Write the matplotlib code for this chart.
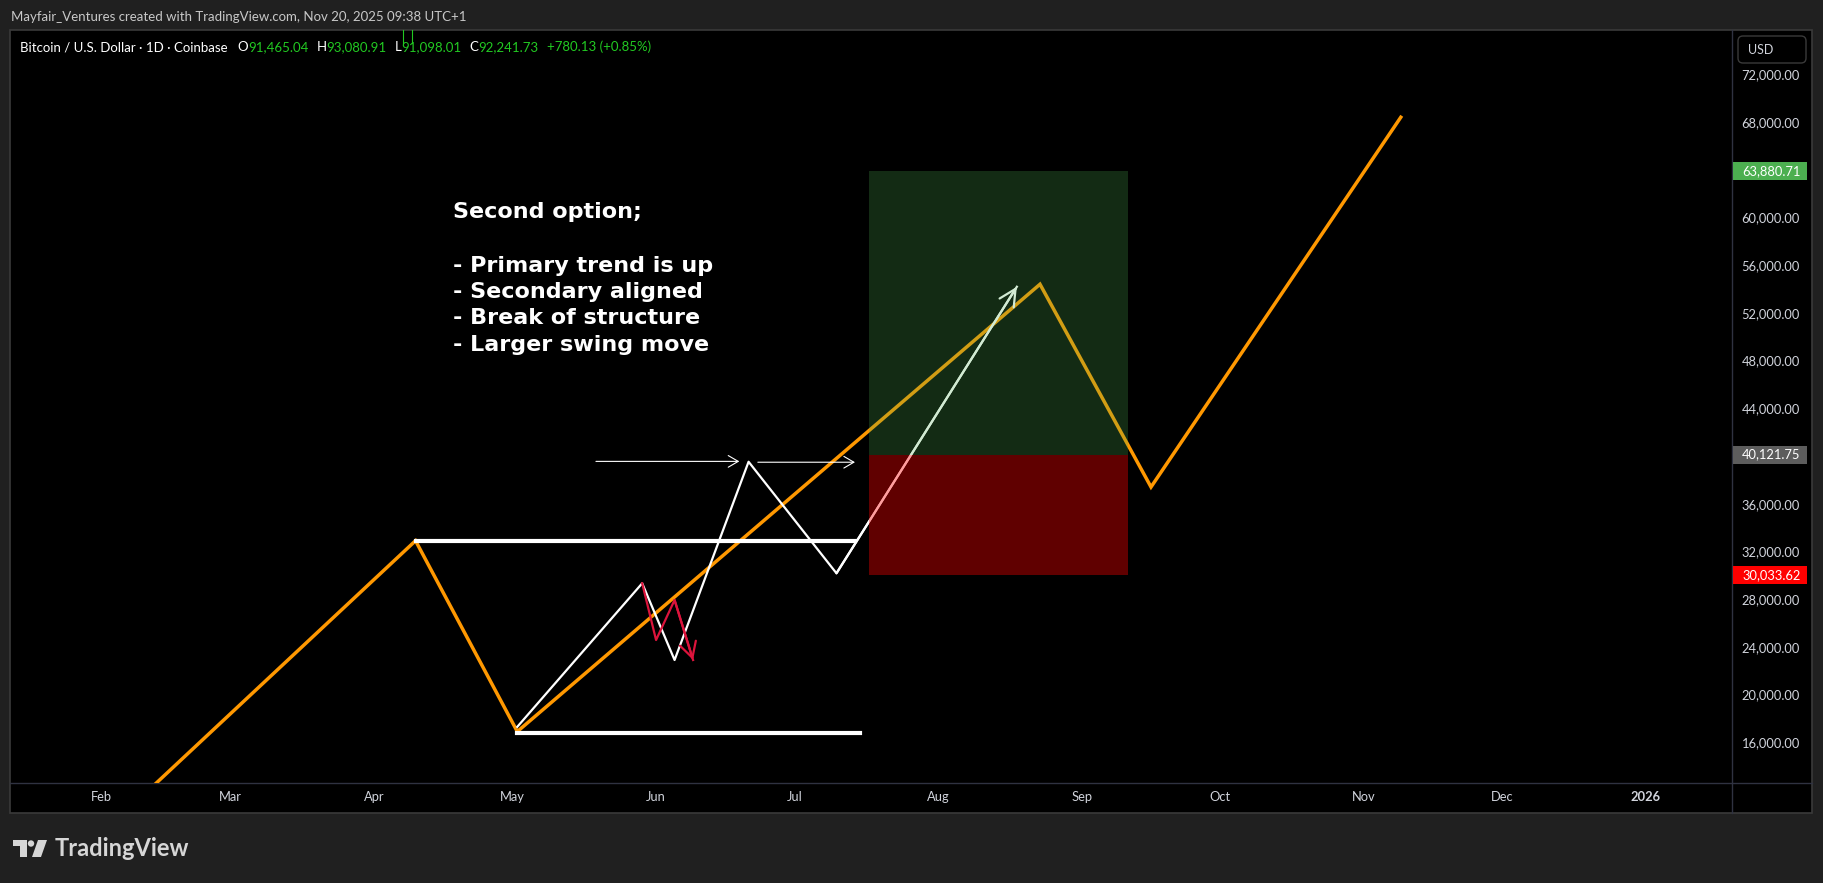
import numpy as np
import pandas as pd
import matplotlib
matplotlib.use("Agg")
import matplotlib.pyplot as plt
import matplotlib.dates as mdates
from matplotlib.patches import Rectangle, Polygon, Circle, FancyBboxPatch
from matplotlib.transforms import blended_transform_factory

# ---- data ----
orange_dates = ["2025-02-05", "2025-04-10", "2025-05-02", "2025-08-23", "2025-09-16", "2025-11-09"]
orange_prices = [9700, 32900, 16900, 54400, 37400, 68400]

white_dates = ["2025-05-02", "2025-05-29", "2025-06-05", "2025-06-21", "2025-07-10", "2025-08-18"]
white_prices = [17300, 29330, 22900, 39520, 30170, 54190]

red_dates = ["2025-05-29", "2025-06-01", "2025-06-05", "2025-06-09"]
red_prices = [29330, 24575, 27930, 22900]

# horizontal structure levels (start, end, price)
level_high = ("2025-04-10", "2025-07-14", 32900)
level_low = ("2025-05-02", "2025-07-15", 16780)

# break-of-structure arrows
bos_arrows = [("2025-05-19", "2025-06-19", 39550), ("2025-06-23", "2025-07-14", 39480)]

# long position tool
box_start, box_end = "2025-07-17", "2025-09-11"
target_price = 63880.71
entry_price = 40121.75
stop_price = 30033.62

price_ticks = list(range(16000, 76000, 4000))
month_ticks = ["2025-02-01", "2025-03-01", "2025-04-01", "2025-05-01", "2025-06-01", "2025-07-01",
               "2025-08-01", "2025-09-01", "2025-10-01", "2025-11-01", "2025-12-01", "2026-01-01"]
month_labels = ["Feb", "Mar", "Apr", "May", "Jun", "Jul", "Aug", "Sep", "Oct", "Nov", "Dec", "2026"]

note_lines = ["Second option;", "- Primary trend is up", "- Secondary aligned",
              "- Break of structure", "- Larger swing move"]
note_anchor = ("2025-04-18", 60450)


def d(s):
    return mdates.date2num(pd.Timestamp(s))


W, H = 1824, 883
fig = plt.figure(figsize=(W / 100, H / 100), dpi=100, facecolor="#202020")

# pixel overlay for frame and logo
bg = fig.add_axes([0, 0, 1, 1], zorder=0)
bg.set_xlim(0, W)
bg.set_ylim(H, 0)
bg.axis("off")
bg.add_patch(Rectangle((10, 30), 1802, 783, facecolor="black", edgecolor="#3a3a3a", lw=1.2))
bg.plot([10, 1812], [783, 783], color="#2f3241", lw=1)
bg.plot([1732, 1732], [30, 813], color="#2f3241", lw=1)

bg.text(11, 17, "Mayfair_Ventures created with TradingView.com, Nov 20, 2025 09:38 UTC+1",
        color="#c8c8c8", fontsize=9.5, family="Lato", va="center")

# USD button
bg.add_patch(FancyBboxPatch((1738, 36), 68, 27, boxstyle="round,pad=0,rounding_size=5",
                            facecolor="black", edgecolor="#3a3a3a", lw=1))
bg.text(1748, 50, "USD", color="#d1d4dc", fontsize=9, family="Lato", va="center")

# TradingView logo
logo_c = "#d6d6d6"
bg.add_patch(Polygon([(13, 840), (27, 840), (27, 857), (20, 857), (20, 846), (13, 846)],
                     closed=True, facecolor=logo_c, edgecolor="none"))
bg.add_patch(Circle((31, 843.5), 3.2, facecolor=logo_c, edgecolor="none"))
bg.add_patch(Polygon([(38, 840), (47, 840), (41, 857), (32, 857)], closed=True,
                     facecolor=logo_c, edgecolor="none"))
bg.text(55, 848.5, "TradingView", color=logo_c, fontsize=17, family="Lato",
        weight="bold", va="center")

# ---- chart ----
ax = fig.add_axes([10 / W, 1 - 783 / H, 1722 / W, 753 / H], zorder=2)
ax.patch.set_visible(False)
for sp in ax.spines.values():
    sp.set_visible(False)

x0 = d("2025-02-01")
ax.set_xlim(x0 - 19.67, x0 + 352.6)
ymin, ymax = 12589, 75713
ax.set_ylim(ymin, ymax)

ax.plot([d(s) for s in orange_dates], orange_prices, color="#ff9800", lw=2.5, zorder=3,
        solid_joinstyle="miter")
ax.plot([d(level_high[0]), d(level_high[1])], [level_high[2]] * 2, color="white", lw=3, zorder=3)
ax.plot([d(level_low[0]), d(level_low[1])], [level_low[2]] * 2, color="white", lw=3, zorder=3)

wx = [d(s) for s in white_dates]
ax.plot(wx, white_prices, color="white", lw=1.6, zorder=4)
ax.annotate("", xy=(wx[-1], white_prices[-1]), xytext=(wx[-2], white_prices[-2]),
            arrowprops=dict(arrowstyle="->,head_length=0.6,head_width=0.3", color="white",
                            lw=1.6, shrinkA=0, shrinkB=0, mutation_scale=20), zorder=4)

rx = [d(s) for s in red_dates]
ax.plot(rx, red_prices, color="#dc143c", lw=1.6, zorder=4)
ax.annotate("", xy=(rx[-1], red_prices[-1]), xytext=(rx[-2], red_prices[-2]),
            arrowprops=dict(arrowstyle="->,head_length=0.55,head_width=0.3", color="#dc143c",
                            lw=1.6, shrinkA=0, shrinkB=0, mutation_scale=20), zorder=4)

for a, b, p in bos_arrows:
    ax.annotate("", xy=(d(b), p), xytext=(d(a), p),
                arrowprops=dict(arrowstyle="->,head_length=0.6,head_width=0.35", color="white",
                                lw=0.8, shrinkA=0, shrinkB=0, mutation_scale=12), zorder=4)

bx0, bx1 = d(box_start), d(box_end)
ax.add_patch(Rectangle((bx0, entry_price), bx1 - bx0, target_price - entry_price,
                       facecolor="#4caf50", alpha=0.25, edgecolor="none", zorder=5))
ax.add_patch(Rectangle((bx0, stop_price), bx1 - bx0, entry_price - stop_price,
                       facecolor="#ff0000", alpha=0.38, edgecolor="none", zorder=5))

# note block: first line, blank line, then four bullets
note_offsets = [0, 54, 80, 106, 133]
for line, off in zip(note_lines, note_offsets):
    ax.annotate(line, xy=(d(note_anchor[0]), note_anchor[1]), xytext=(0, -off * 0.72),
                textcoords="offset points", color="white", fontsize=16, family="DejaVu Sans",
                weight="bold", va="center", ha="left", zorder=6)

# axes ticks
ax.yaxis.tick_right()
ax.set_yticks(price_ticks)
ax.set_yticklabels([f"{v:,.2f}" for v in price_ticks])
ax.tick_params(axis="y", length=0, pad=7, labelcolor="#d1d4dc", labelsize=9.3)
ax.set_xticks([d(s) for s in month_ticks])
ax.set_xticklabels(month_labels)
ax.tick_params(axis="x", length=0, pad=6, labelcolor="#d1d4dc", labelsize=9.3)
for lab in ax.get_xticklabels() + ax.get_yticklabels():
    lab.set_family("Lato")
ax.get_xticklabels()[-1].set_weight("bold")

# highlighted price labels on the scale
tr = blended_transform_factory(bg.transData, ax.transData)
lab_h = 18 * (ymax - ymin) / 753
for p, col in [(target_price, "#4caf50"), (entry_price, "#5d5d5d"), (stop_price, "#ff0000")]:
    ax.add_patch(Rectangle((1733, p - lab_h / 2), 74, lab_h, facecolor=col, edgecolor="none",
                           transform=tr, clip_on=False, zorder=7))
    ax.text(1742, p, f"{p:,.2f}", color="white", fontsize=9.3, family="Lato", va="center",
            transform=tr, clip_on=False, zorder=8)

ax.set_xlim(x0 - 19.67, x0 + 352.6)
ax.set_ylim(ymin, ymax)

# symbol / OHLC line on top of the chart pane
top = fig.add_axes([0, 0, 1, 1], zorder=10)
top.set_xlim(0, W)
top.set_ylim(H, 0)
top.axis("off")
top.patch.set_visible(False)
green = "#22c922"
pieces = [("Bitcoin / U.S. Dollar · 1D · Coinbase", "white", 10),
          ("O", "white", 0), ("91,465.04", green, 8),
          ("H", "white", 0), ("93,080.91", green, 8),
          ("L", "white", 0), ("91,098.01", green, 8),
          ("C", "white", 0), ("92,241.73", green, 8),
          ("+780.13 (+0.85%)", green, 0)]
renderer = fig.canvas.get_renderer()
x = 20
for s, c, gap in pieces:
    t = top.text(x, 47, s, color=c, fontsize=9.5, family="Lato", va="center")
    x += t.get_window_extent(renderer).width + gap

# tiny last-candle marker peeking in at the top edge
top.plot([403, 403], [30, 43], color=green, lw=0.8)
top.plot([412, 412], [30, 43], color=green, lw=0.8)

fig.savefig("out.png", dpi=100, facecolor=fig.get_facecolor())
